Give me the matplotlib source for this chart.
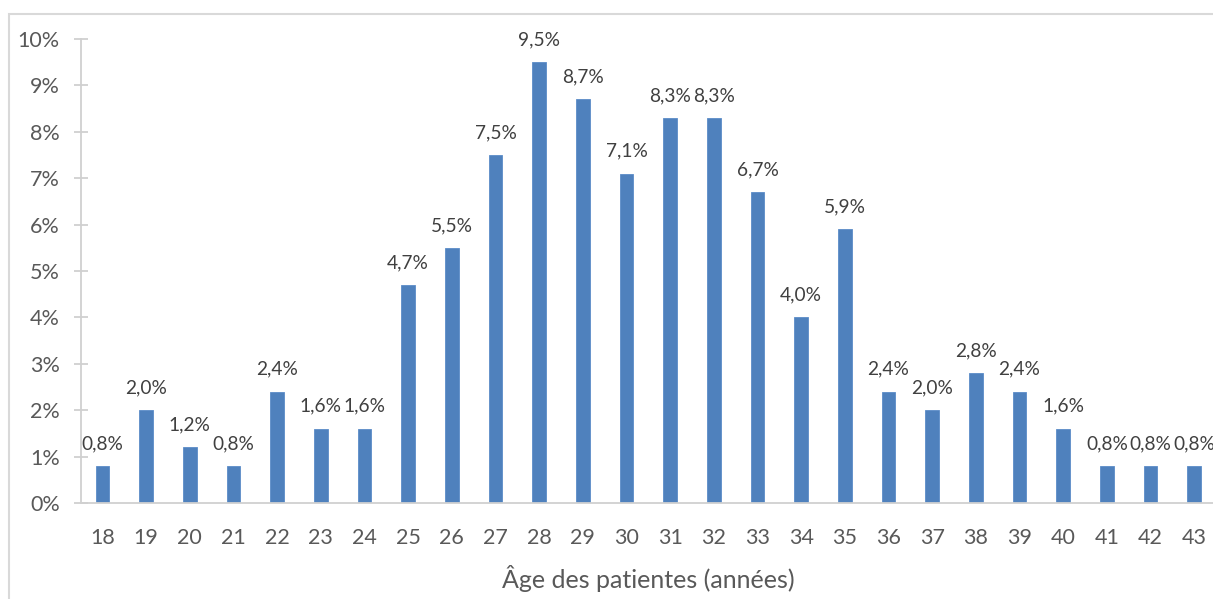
import matplotlib
matplotlib.use('Agg')
import matplotlib.pyplot as plt
from matplotlib.patches import Rectangle

# âges et pourcentages
ages = list(range(18, 44))
pourcentages = [0.8, 2.0, 1.2, 0.8, 2.4, 1.6, 1.6, 4.7, 5.5, 7.5, 9.5, 8.7, 7.1,
                8.3, 8.3, 6.7, 4.0, 5.9, 2.4, 2.0, 2.8, 2.4, 1.6, 0.8, 0.8, 0.8]
yticks = list(range(0, 11))

plt.rcParams['font.family'] = ['Lato', 'DejaVu Sans']

fig = plt.figure(figsize=(12.13, 5.99), dpi=100)
ax = fig.add_axes([80.7 / 1213, 1 - 503 / 599, (1216 - 80.7) / 1213, (503 - 39) / 599])

x = list(range(len(ages)))
ax.bar(x, pourcentages, width=0.31, color='#4F81BD', edgecolor='#5B8CC8', linewidth=0.6)

for xi, v in zip(x, pourcentages):
    ax.text(xi, v + 0.3, f"{v:.1f}%".replace('.', ','), ha='center', va='bottom',
            fontsize=13.8, color='#404040')

ax.set_xlim(-0.5, len(ages) - 0.5)
ax.set_ylim(0, 10)
ax.set_xticks(x)
ax.set_xticklabels([str(a) for a in ages])
ax.set_yticks(yticks)
ax.set_yticklabels([f"{t}%" for t in yticks])

for s in ['top', 'right']:
    ax.spines[s].set_visible(False)
ax.spines['left'].set_color('#D0D0D0')
ax.spines['bottom'].set_color('#D0D0D0')
ax.spines['left'].set_linewidth(1.3)
ax.spines['bottom'].set_linewidth(1.3)

ax.tick_params(axis='x', length=0, pad=18, labelsize=15.5, labelcolor='#595959')
ax.tick_params(axis='y', direction='inout', length=10, width=1.3, color='#D0D0D0',
               pad=10, labelsize=15.5, labelcolor='#595959')

ax.set_xlabel('Âge des patientes (années)', fontsize=18, color='#595959', labelpad=12)

# cadre du graphique
fig.patches.append(Rectangle((8.5 / 1213, -0.1), 1.2, 1 - 13.5 / 599 + 0.1,
                             transform=fig.transFigure, fill=False,
                             edgecolor='#D9D9D9', linewidth=1.5))

fig.savefig('out.png', dpi=100)
